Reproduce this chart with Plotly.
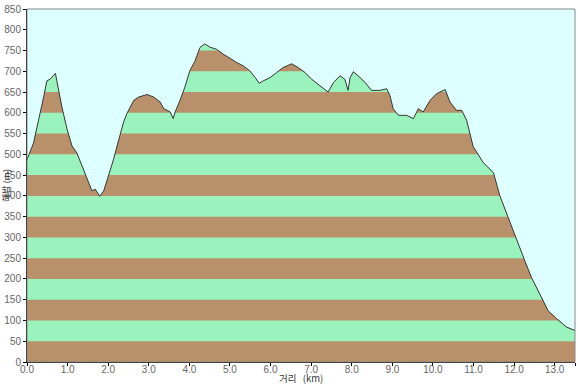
import plotly.graph_objects as go

# Elevation profile (distance km, elevation m)
dist_km = [0.00, 0.16, 0.41, 0.49, 0.57, 0.70, 0.78, 0.86, 0.99, 1.11, 1.23, 1.35, 1.48, 1.60,
           1.68, 1.79, 1.89, 2.01, 2.13, 2.26, 2.38, 2.46, 2.63, 2.75, 2.96, 3.12, 3.28, 3.37,
           3.53, 3.60, 3.65, 3.77, 3.89, 4.01, 4.14, 4.26, 4.38, 4.51, 4.67, 4.84, 5.00, 5.17,
           5.33, 5.49, 5.62, 5.72, 5.82, 5.99, 6.15, 6.31, 6.52, 6.68, 6.85, 7.01, 7.22, 7.42,
           7.55, 7.71, 7.83, 7.91, 7.96, 8.04, 8.16, 8.33, 8.49, 8.69, 8.86, 8.94, 9.02, 9.15,
           9.35, 9.52, 9.64, 9.76, 9.93, 10.09, 10.30, 10.42, 10.58, 10.71, 10.83, 10.99, 11.24,
           11.49, 11.65, 11.86, 12.06, 12.27, 12.43, 12.64, 12.84, 13.05, 13.29, 13.50]
elev_m = [487, 527, 638, 677, 681, 695, 654, 614, 559, 520, 503, 472, 440, 412,
          416, 399, 412, 448, 487, 535, 578, 598, 630, 638, 644, 638, 626, 610,
          602, 586, 602, 630, 662, 701, 725, 757, 766, 758, 753, 741, 731, 721,
          713, 701, 685, 671, 677, 685, 697, 709, 718, 709, 697, 681, 665, 650,
          673, 689, 681, 654, 685, 699, 689, 673, 654, 654, 658, 642, 610, 594,
          594, 586, 610, 602, 630, 646, 656, 626, 606, 606, 582, 519, 480,
          456, 400, 345, 297, 242, 203, 163, 123, 104, 84, 76]

band_step = 50
y_max = 850
y_ticks = list(range(0, 851, 50))
x_tickvals = list(range(0, 14)) + [13.5]
x_ticktext = [f"{v:.1f}" for v in x_tickvals]

BROWN = "#B8916A"
GREEN = "#9AF3BC"
SKY = "#DDFFFF"


def clip_profile(xs, ys, hi):
    """Profile capped at level hi, with exact crossing points added."""
    ox, oy = [xs[0]], [min(ys[0], hi)]
    for i in range(1, len(xs)):
        x0, y0, x1, y1 = xs[i - 1], ys[i - 1], xs[i], ys[i]
        if (y0 - hi) * (y1 - hi) < 0:
            t = (hi - y0) / (y1 - y0)
            ox.append(x0 + t * (x1 - x0))
            oy.append(hi)
        ox.append(x1)
        oy.append(min(y1, hi))
    return ox, oy


fig = go.Figure()

n_bands = y_max // band_step
for k in range(n_bands - 1, -1, -1):
    hi = (k + 1) * band_step
    cx, cy = clip_profile(dist_km, elev_m, hi)
    col = BROWN if k % 2 == 0 else GREEN
    fig.add_trace(go.Scatter(
        x=cx, y=cy, mode="lines", fill="tozeroy",
        fillcolor=col, line=dict(width=0, color=col),
        hoverinfo="skip", showlegend=False))

fig.add_trace(go.Scatter(x=dist_km, y=elev_m, mode="lines",
                         line=dict(color="#3a3a3a", width=1), showlegend=False))

tick_font = dict(family="Liberation Sans", size=10, color="#666666")

fig.update_layout(
    width=578, height=384,
    margin=dict(l=27, r=3, t=7, b=22),
    paper_bgcolor="white", plot_bgcolor=SKY,
    showlegend=False,
    xaxis=dict(range=[0, 13.5], tickvals=x_tickvals, ticktext=x_ticktext,
               ticks="outside", ticklen=3, tickcolor="#000", showgrid=False,
               zeroline=False, showline=True, linecolor="#000", linewidth=1,
               tickfont=tick_font, ticklabelstandoff=-5, fixedrange=True),
    yaxis=dict(range=[0, 850], tickvals=y_ticks,
               ticks="outside", ticklen=3, tickcolor="#000", showgrid=False,
               zeroline=False, showline=True, linecolor="#000", linewidth=1,
               tickfont=tick_font, fixedrange=True),
    shapes=[dict(type="rect", xref="paper", yref="paper", x0=0, x1=1, y0=0, y1=1,
                 line=dict(color="#888888", width=1), layer="above")],
    annotations=[
        dict(text="거리   (km)", xref="paper", yref="paper", x=0.5, y=-0.044,
             yanchor="middle", xanchor="center", showarrow=False,
             font=dict(family="Noto Sans CJK KR", size=9.5, color="#333333")),
        dict(text="해발 (m)", xref="paper", yref="paper", x=-0.0374, y=0.5,
             textangle=-90, xanchor="center", yanchor="middle", showarrow=False,
             font=dict(family="Noto Sans CJK KR", size=9, color="#333333")),
    ],
)

fig.write_html("out.html")
